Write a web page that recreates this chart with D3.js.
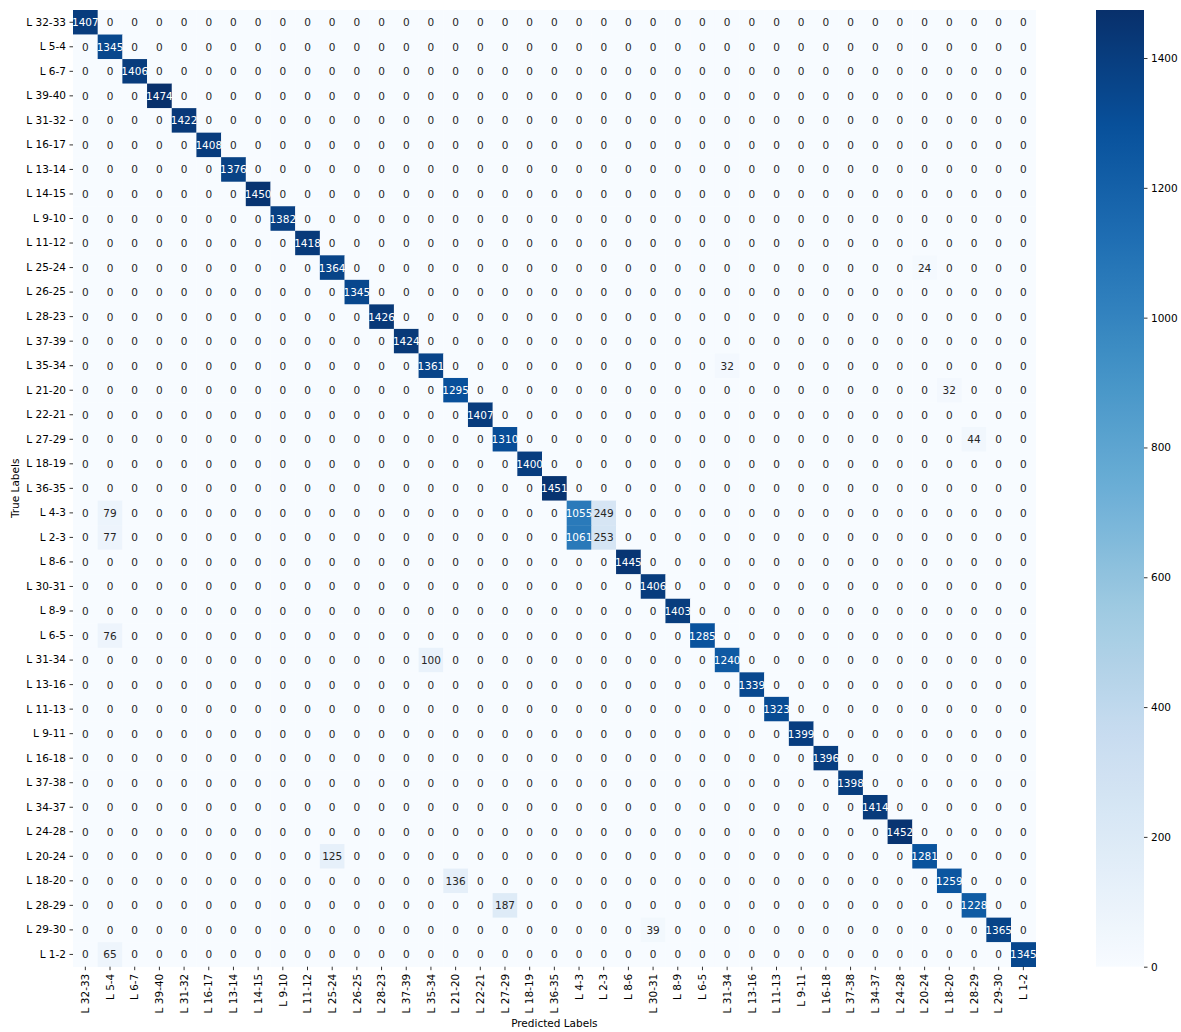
<!DOCTYPE html>
<html>
<head>
<meta charset="utf-8">
<script src="https://cdn.jsdelivr.net/npm/d3@7"></script>
<style>
  html, body { margin: 0; padding: 0; background: #ffffff; }
  svg { display: block; font-family: "DejaVu Sans", sans-serif; }
</style>
</head>
<body>
<svg id="chart" width="1181" height="1032"></svg>
<script>
// Class labels (same order on both axes)
const labels = [
  "L 32-33", "L 5-4", "L 6-7", "L 39-40", "L 31-32", "L 16-17", "L 13-14", "L 14-15",
  "L 9-10", "L 11-12", "L 25-24", "L 26-25", "L 28-23", "L 37-39", "L 35-34", "L 21-20",
  "L 22-21", "L 27-29", "L 18-19", "L 36-35", "L 4-3", "L 2-3", "L 8-6", "L 30-31",
  "L 8-9", "L 6-5", "L 31-34", "L 13-16", "L 11-13", "L 9-11", "L 16-18", "L 37-38",
  "L 34-37", "L 24-28", "L 20-24", "L 18-20", "L 28-29", "L 29-30", "L 1-2"
];

// Correct predictions (diagonal of the confusion matrix)
const diagonal = [
  1407, 1345, 1406, 1474, 1422, 1408, 1376, 1450,
  1382, 1418, 1364, 1345, 1426, 1424, 1361, 1295,
  1407, 1310, 1400, 1451, 1055, 253, 1445, 1406,
  1403, 1285, 1240, 1339, 1323, 1399, 1396, 1398,
  1414, 1452, 1281, 1259, 1228, 1365, 1345
];

// Misclassifications: [true index, predicted index, count]
const offDiagonal = [
  [10, 34, 24], [14, 26, 32], [15, 35, 32], [17, 36, 44],
  [20, 1, 79], [20, 21, 249], [21, 1, 77], [21, 20, 1061],
  [25, 1, 76], [26, 14, 100], [34, 10, 125], [35, 15, 136],
  [36, 17, 187], [37, 23, 39], [38, 1, 65]
];

// Colour bar ticks
const colorTicks = [0, 200, 400, 600, 800, 1000, 1200, 1400];

// Build the full matrix
const n = labels.length;
const matrix = labels.map((_, i) => labels.map((_, j) => (i === j ? diagonal[i] : 0)));
offDiagonal.forEach(([i, j, v]) => { matrix[i][j] = v; });

const cells = [];
matrix.forEach((row, i) => row.forEach((v, j) => cells.push({ i, j, v })));

const vmax = d3.max(cells, d => d.v);

// Sequential "Blues" ramp, piecewise-linear through the ColorBrewer anchors
const bluesAnchors = ["#f7fbff", "#deebf7", "#c6dbef", "#9ecae1", "#6baed6",
                      "#4292c6", "#2171b5", "#08519c", "#08306b"];
const color = d3.scaleLinear()
  .domain(bluesAnchors.map((_, k) => k / (bluesAnchors.length - 1) * vmax))
  .range(bluesAnchors)
  .interpolate(d3.interpolateRgb)
  .clamp(true);

// Pick annotation colour from relative luminance of the cell colour
function textColor(c) {
  const rgb = d3.rgb(c);
  const lin = [rgb.r, rgb.g, rgb.b].map(x => {
    x /= 255;
    return x <= 0.03928 ? x / 12.92 : Math.pow((x + 0.055) / 1.055, 2.4);
  });
  const lum = 0.2126 * lin[0] + 0.7152 * lin[1] + 0.0722 * lin[2];
  return lum > 0.408 ? "#262626" : "#ffffff";
}

const svg = d3.select("#chart");
const fontSize = 10.5;

const plot = { left: 73, right: 1035.7, top: 10, bottom: 966.7 };

const x = d3.scaleBand().domain(d3.range(n)).range([plot.left, plot.right]).paddingInner(0).paddingOuter(0);
const y = d3.scaleBand().domain(d3.range(n)).range([plot.top, plot.bottom]).paddingInner(0).paddingOuter(0);

// Heatmap cells
svg.append("g")
  .selectAll("rect")
  .data(cells)
  .join("rect")
  .attr("x", d => x(d.j))
  .attr("y", d => y(d.i))
  .attr("width", x.bandwidth() + 0.3)
  .attr("height", y.bandwidth() + 0.3)
  .attr("fill", d => color(d.v));

// Cell annotations
svg.append("g")
  .selectAll("text")
  .data(cells)
  .join("text")
  .attr("x", d => x(d.j) + x.bandwidth() / 2)
  .attr("y", d => y(d.i) + y.bandwidth() / 2)
  .attr("text-anchor", "middle")
  .attr("dominant-baseline", "central")
  .attr("font-size", fontSize)
  .attr("fill", d => textColor(color(d.v)))
  .text(d => d.v);

// Left axis (true labels)
const yAxis = d3.axisLeft(y).tickSize(3.5).tickPadding(3.5).tickFormat(i => labels[i]);
const gy = svg.append("g").attr("transform", `translate(${plot.left},0)`).call(yAxis);
gy.select(".domain").remove();
gy.selectAll("text").attr("font-size", fontSize).attr("fill", "#000").attr("font-family", "DejaVu Sans, sans-serif");
gy.selectAll("line").attr("stroke", "#000").attr("stroke-width", 0.8);

// Bottom axis (predicted labels), labels rotated vertical
const xAxis = d3.axisBottom(x).tickSize(3.5).tickPadding(3.5).tickFormat(i => labels[i]);
const gx = svg.append("g").attr("transform", `translate(0,${plot.bottom})`).call(xAxis);
gx.select(".domain").remove();
gx.selectAll("line").attr("stroke", "#000").attr("stroke-width", 0.8);
gx.selectAll("text")
  .attr("font-size", fontSize)
  .attr("fill", "#000")
  .attr("font-family", "DejaVu Sans, sans-serif")
  .attr("transform", "rotate(-90)")
  .attr("x", -7)
  .attr("y", 0)
  .attr("dy", "0.35em")
  .attr("text-anchor", "end");

// Axis titles
svg.append("text")
  .attr("transform", `translate(19,${(plot.top + plot.bottom) / 2}) rotate(-90)`)
  .attr("text-anchor", "middle")
  .attr("font-size", fontSize)
  .attr("fill", "#000")
  .text("True Labels");

svg.append("text")
  .attr("x", (plot.left + plot.right) / 2)
  .attr("y", 1027)
  .attr("text-anchor", "middle")
  .attr("font-size", fontSize)
  .attr("fill", "#000")
  .text("Predicted Labels");

// Colour bar
const cb = { left: 1096, width: 48 };
const cbScale = d3.scaleLinear().domain([0, vmax]).range([plot.bottom, plot.top]);

const defs = svg.append("defs");
const grad = defs.append("linearGradient")
  .attr("id", "cbGrad")
  .attr("x1", 0).attr("y1", 1).attr("x2", 0).attr("y2", 0);
d3.range(0, 1.0001, 0.02).forEach(t => {
  grad.append("stop").attr("offset", t).attr("stop-color", color(t * vmax));
});

svg.append("rect")
  .attr("x", cb.left)
  .attr("y", plot.top)
  .attr("width", cb.width)
  .attr("height", plot.bottom - plot.top)
  .attr("fill", "url(#cbGrad)");

const cbAxis = d3.axisRight(cbScale)
  .tickValues(colorTicks)
  .tickFormat(d3.format("d"))
  .tickSize(3.5)
  .tickPadding(3.5);
const gc = svg.append("g").attr("transform", `translate(${cb.left + cb.width},0)`).call(cbAxis);
gc.select(".domain").remove();
gc.selectAll("line").attr("stroke", "#000").attr("stroke-width", 0.8);
gc.selectAll("text").attr("font-size", fontSize).attr("fill", "#000").attr("font-family", "DejaVu Sans, sans-serif");
</script>
</body>
</html>
